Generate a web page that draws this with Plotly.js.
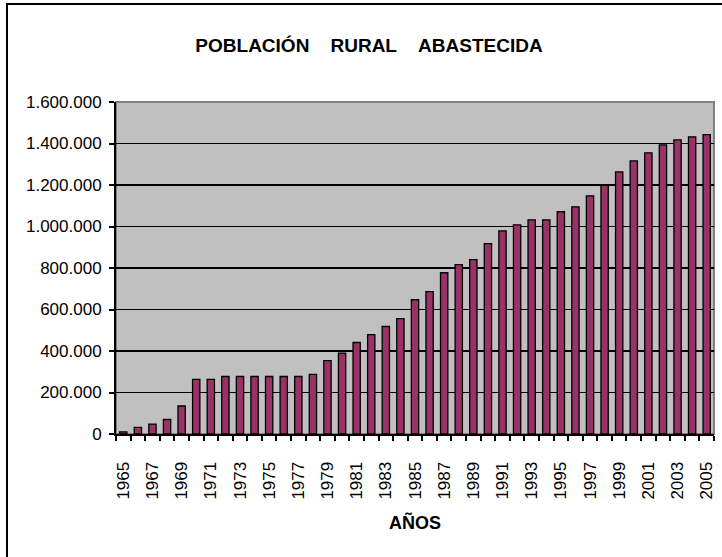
<!DOCTYPE html>
<html>
<head>
<meta charset="utf-8">
<script src="https://cdn.plot.ly/plotly-3.0.1.min.js"></script>
<style>html,body{margin:0;padding:0;background:#fff;}#chart{width:722px;height:557px;}</style>
</head>
<body>
<div id="chart"></div>
<script>
const years = [1965,1966,1967,1968,1969,1970,1971,1972,1973,1974,1975,1976,1977,1978,1979,1980,1981,1982,1983,1984,1985,1986,1987,1988,1989,1990,1991,1992,1993,1994,1995,1996,1997,1998,1999,2000,2001,2002,2003,2004,2005];
const population = [10000,32000,48000,70000,135000,263000,263000,277000,277000,277000,277000,277000,277000,287000,354000,390000,441000,479000,518000,556000,647000,686000,777000,816000,840000,917000,979000,1008000,1032000,1032000,1071000,1095000,1148000,1198000,1263000,1316000,1355000,1393000,1417000,1432000,1443000];
const yearLabels = ["1965","1967","1969","1971","1973","1975","1977","1979","1981","1983","1985","1987","1989","1991","1993","1995","1997","1999","2001","2003","2005"];
const yTicks = [0,200000,400000,600000,800000,1000000,1200000,1400000,1600000];

const titleWords = ["POBLACIÓN", "RURAL", "ABASTECIDA"];
const xTitle = "AÑOS";

const FONT = "'Liberation Sans', Arial, sans-serif";
const GAP = '&nbsp;&nbsp;&nbsp;&nbsp;';

const trace = {
  type: 'bar',
  x: years,
  y: population,
  marker: {color: '#993366', line: {color: '#000000', width: 1.3}},
  hoverinfo: 'x+y'
};

const layout = {
  width: 722, height: 557,
  margin: {l: 116, r: 8, t: 102, b: 123},
  paper_bgcolor: '#ffffff',
  plot_bgcolor: '#C0C0C0',
  separators: ',.',
  showlegend: false,
  bargap: 0.5,
  title: {
    text: '<b>' + titleWords.join(GAP) + '</b>',
    font: {family: FONT, size: 19, color: '#000'},
    x: 369/722, xref: 'container', xanchor: 'center',
    y: 1 - 45.5/557, yref: 'container', yanchor: 'middle'
  },
  xaxis: {
    type: 'linear',
    range: [years[0] - 0.5, years[years.length - 1] + 0.5],
    tickmode: 'array',
    tickvals: yearLabels.map(Number),
    ticktext: yearLabels,
    tickangle: -90,
    ticks: '',
    ticklabelstandoff: 19,
    tickfont: {family: FONT, size: 17, color: '#000'},
    showgrid: false,
    zeroline: false,
    showline: true, linecolor: '#000', linewidth: 2,
    minor: {tickmode: 'linear', tick0: years[0] - 0.5, dtick: 1, ticks: 'outside', ticklen: 5, tickwidth: 2, tickcolor: '#000', showgrid: false},
    fixedrange: true
  },
  yaxis: {
    range: [0, 1600000],
    tickmode: 'array',
    tickvals: yTicks,
    tickformat: ',d',
    ticks: 'outside', ticklen: 5, tickwidth: 2, tickcolor: '#000',
    ticklabelstandoff: 4,
    tickfont: {family: FONT, size: 17, color: '#000'},
    showgrid: true, gridcolor: '#000', gridwidth: 1.8,
    zeroline: false,
    showline: true, linecolor: '#000', linewidth: 2,
    fixedrange: true
  },
  shapes: [
    {type: 'rect', xref: 'paper', yref: 'paper', x0: 0, x1: 1, y0: 0, y1: 1, line: {color: '#808080', width: 2}, layer: 'below'},
    {type: 'rect', xref: 'paper', yref: 'paper', x0: (7 - 116)/598, x1: (735 - 116)/598, y0: (434 - 570)/332, y1: (434 - 4)/332, line: {color: '#000', width: 2}, fillcolor: 'rgba(0,0,0,0)'}
  ],
  annotations: [
    {text: '<b>' + xTitle + '</b>', xref: 'paper', yref: 'paper', x: 0.5, y: (434 - 522.5)/332, xanchor: 'center', yanchor: 'middle', showarrow: false, font: {family: FONT, size: 18, color: '#000'}}
  ]
};

Plotly.newPlot('chart', [trace], layout, {displayModeBar: false, staticPlot: true});
</script>
</body>
</html>
